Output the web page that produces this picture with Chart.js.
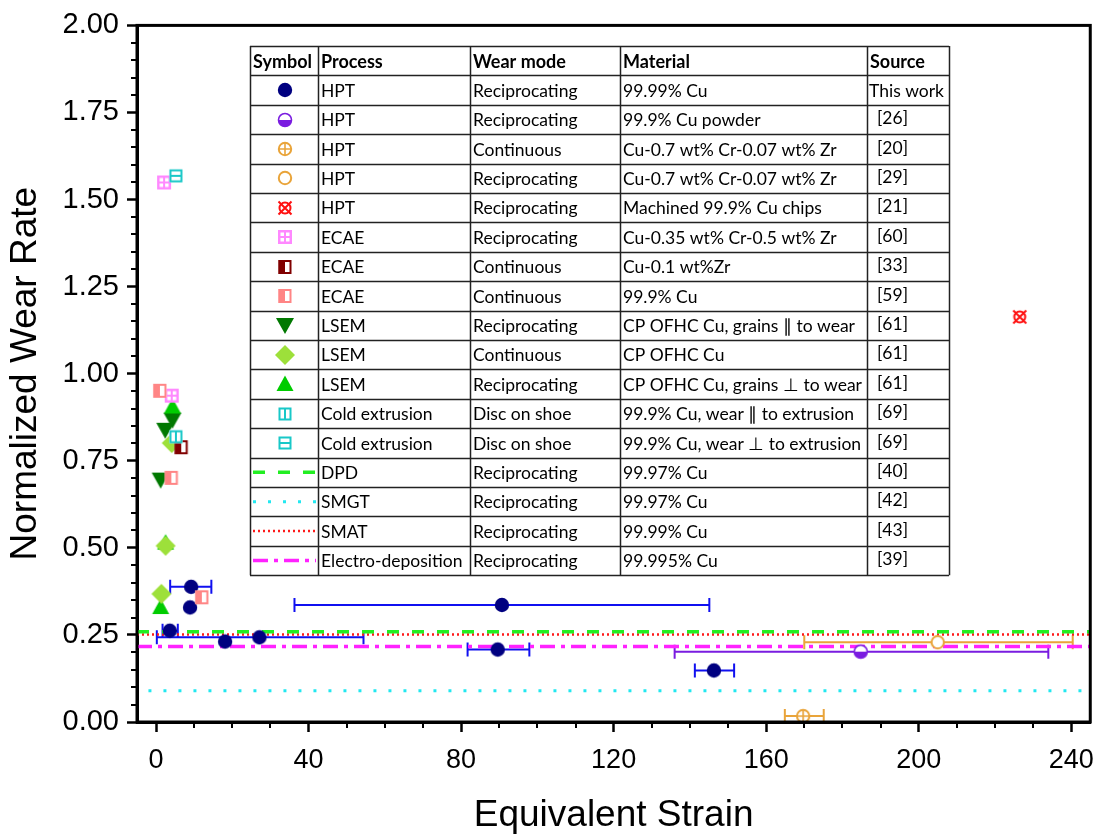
<!DOCTYPE html>
<html>
<head>
<meta charset="utf-8">
<script src="https://cdn.jsdelivr.net/npm/chart.js@4.4.1/dist/chart.umd.min.js"></script>
<style>
  html, body { margin: 0; padding: 0; background: #fff; }
</style>
</head>
<body>
<canvas id="wearChart" width="1106" height="838"></canvas>
<script>
// axis ticks
var xTicks = [0, 40, 80, 120, 160, 200, 240];
var yTicks = [0, 0.25, 0.5, 0.75, 1.0, 1.25, 1.5, 1.75, 2.0];

// HPT, this work (with strain ranges)
var hptX     = [9.2, 8.9, 3.6, 18.1, 27.1, 90.7, 89.6, 146.3];
var hptY     = [0.388, 0.329, 0.262, 0.231, 0.243, 0.336, 0.208, 0.148];
var hptXLow  = [3.7, null, 1.7, null, 0.2, 36.3, 81.7, 141.3];
var hptXHigh = [14.5, null, 5.7, null, 54.4, 145.1, 97.9, 151.6];

// HPT literature
var hpt26X = [184.8], hpt26Y = [0.202], hpt26Low = [136], hpt26High = [234];
var hpt20X = [169.7], hpt20Y = [0.017], hpt20Low = [164.9], hpt20High = [175.1];
var hpt29X = [205], hpt29Y = [0.229], hpt29Low = [170], hpt29High = [240.4];
var hpt21X = [226.5], hpt21Y = [1.163];

// ECAE
var ecae60X = [2.1, 4.1], ecae60Y = [1.549, 0.937];
var ecae33X = [6.6], ecae33Y = [0.789];
var ecae59X = [1.0, 4.0, 12.0], ecae59Y = [0.951, 0.701, 0.358];

// LSEM
var lsemParX = [4.3, 2.4, 1.2], lsemParY = [0.868, 0.839, 0.696];
var lsemConX = [4.1, 2.5, 1.4], lsemConY = [0.801, 0.506, 0.368];
var lsemPerpX = [4.3, 2.5, 1.2], lsemPerpY = [0.906, 0.515, 0.330];

// Cold extrusion
var coldParX = [5.2], coldParY = [0.819];
var coldPerpX = [5.2], coldPerpY = [1.568];

// reference levels (horizontal lines)
var lineSpan = [-5, 245];
var smgtSpan = [-2, 245];
var dpdLevel = 0.259, smgtLevel = 0.090, smatLevel = 0.251, edLevel = 0.217;

// table
var tableHead  = ['Symbol', 'Process', 'Wear mode', 'Material', 'Source'];
var processes  = ['HPT', 'HPT', 'HPT', 'HPT', 'HPT', 'ECAE', 'ECAE', 'ECAE', 'LSEM', 'LSEM', 'LSEM',
                  'Cold extrusion', 'Cold extrusion', 'DPD', 'SMGT', 'SMAT', 'Electro-deposition'];
var wearModes  = ['Reciprocating', 'Reciprocating', 'Continuous', 'Reciprocating', 'Reciprocating',
                  'Reciprocating', 'Continuous', 'Continuous', 'Reciprocating', 'Continuous', 'Reciprocating',
                  'Disc on shoe', 'Disc on shoe', 'Reciprocating', 'Reciprocating', 'Reciprocating', 'Reciprocating'];
var materials  = ['99.99% Cu', '99.9% Cu powder', 'Cu-0.7 wt% Cr-0.07 wt% Zr', 'Cu-0.7 wt% Cr-0.07 wt% Zr',
                  'Machined 99.9% Cu chips', 'Cu-0.35 wt% Cr-0.5 wt% Zr', 'Cu-0.1 wt%Zr', '99.9% Cu',
                  'CP OFHC Cu, grains \u2225 to wear', 'CP OFHC Cu', 'CP OFHC Cu, grains \u22A5 to wear',
                  '99.9% Cu, wear \u2225 to extrusion', '99.9% Cu, wear \u22A5 to extrusion',
                  '99.97% Cu', '99.97% Cu', '99.99% Cu', '99.995% Cu'];
var sources    = ['This work', '[26]', '[20]', '[29]', '[21]', '[60]', '[33]', '[59]', '[61]', '[61]', '[61]',
                  '[69]', '[69]', '[40]', '[42]', '[43]', '[39]'];

// ---------- marker images ----------
function makeMarker(kind, color) {
  var c = document.createElement('canvas');
  c.width = 24; c.height = 24;
  var g = c.getContext('2d');
  g.translate(12, 12);
  g.fillStyle = color;
  g.strokeStyle = color;
  g.lineWidth = 2;
  if (kind === 'dot') {
    g.beginPath(); g.arc(0, 0, 7.2, 0, 2 * Math.PI); g.fill();
  } else if (kind === 'halfdot') {
    g.beginPath(); g.arc(0, 0, 6.5, 0, 2 * Math.PI); g.fillStyle = '#fff'; g.fill();
    g.beginPath(); g.arc(0, 0, 6.5, 0, Math.PI); g.closePath(); g.fillStyle = color; g.fill();
    g.lineWidth = 1.6; g.beginPath(); g.arc(0, 0, 6.5, 0, 2 * Math.PI); g.stroke();
  } else if (kind === 'ring' || kind === 'ringplus') {
    g.beginPath(); g.arc(0, 0, 6.2, 0, 2 * Math.PI); g.fillStyle = '#fff'; g.fill(); g.stroke();
    if (kind === 'ringplus') {
      g.lineWidth = 1.6;
      g.beginPath(); g.moveTo(-6.2, 0); g.lineTo(6.2, 0); g.moveTo(0, -6.2); g.lineTo(0, 6.2); g.stroke();
    }
  } else if (kind === 'ringx') {
    g.fillStyle = '#fff'; g.fillRect(-6.5, -6.5, 13, 13);
    g.beginPath(); g.arc(0, 0, 5.5, 0, 2 * Math.PI); g.stroke();
    g.beginPath(); g.moveTo(-6.5, -6.5); g.lineTo(6.5, 6.5); g.moveTo(6.5, -6.5); g.lineTo(-6.5, 6.5); g.stroke();
  } else if (kind === 'grid') {
    g.fillRect(-7, -7, 14, 14);
    g.fillStyle = '#fff';
    g.fillRect(-4.5, -4.5, 3.5, 3.5); g.fillRect(1, -4.5, 3.5, 3.5);
    g.fillRect(-4.5, 1, 3.5, 3.5); g.fillRect(1, 1, 3.5, 3.5);
  } else if (kind === 'halfsq') {
    g.fillStyle = '#fff'; g.fillRect(-6.5, -7, 13, 14);
    g.fillStyle = color; g.fillRect(-6.5, -7, 6.5, 14);
    g.lineWidth = 2; g.strokeRect(-5.5, -6, 11, 12);
  } else if (kind === 'down') {
    g.beginPath(); g.moveTo(-9, -7); g.lineTo(9, -7); g.lineTo(0, 9); g.closePath(); g.fill();
  } else if (kind === 'up') {
    g.beginPath(); g.moveTo(-8.5, 7); g.lineTo(8.5, 7); g.lineTo(0, -8.5); g.closePath(); g.fill();
  } else if (kind === 'diamond') {
    g.beginPath(); g.moveTo(0, -10); g.lineTo(10, 0); g.lineTo(0, 10); g.lineTo(-10, 0); g.closePath(); g.fill();
  } else if (kind === 'sqv' || kind === 'sqh') {
    g.fillStyle = '#fff'; g.fillRect(-6.5, -6.5, 13, 13);
    g.strokeRect(-5.5, -5.5, 11, 11);
    g.beginPath();
    if (kind === 'sqv') { g.moveTo(0, -5.5); g.lineTo(0, 5.5); } else { g.moveTo(-5.5, 0); g.lineTo(5.5, 0); }
    g.stroke();
  }
  return c;
}

function pts(xs, ys) {
  return xs.map(function (x, i) { return { x: x, y: ys[i] }; });
}

// series in table order; z = draw order (lower is on top)
var series = [
  { x: hptX, y: hptY, lo: hptXLow, hi: hptXHigh, marker: makeMarker('dot', '#000080'), bar: '#1010f0', z: 8 },
  { x: hpt26X, y: hpt26Y, lo: hpt26Low, hi: hpt26High, marker: makeMarker('halfdot', '#7a1ce0'), bar: '#7a1ce0', z: 9 },
  { x: hpt20X, y: hpt20Y, lo: hpt20Low, hi: hpt20High, marker: makeMarker('ringplus', '#e9a43a'), bar: '#e9a43a', z: 10 },
  { x: hpt29X, y: hpt29Y, lo: hpt29Low, hi: hpt29High, marker: makeMarker('ring', '#e9a43a'), bar: '#e9a43a', z: 11 },
  { x: hpt21X, y: hpt21Y, marker: makeMarker('ringx', '#ff1010'), z: 12 },
  { x: ecae60X, y: ecae60Y, marker: makeMarker('grid', '#ff88ff'), z: 4 },
  { x: ecae33X, y: ecae33Y, marker: makeMarker('halfsq', '#800000'), z: 2 },
  { x: ecae59X, y: ecae59Y, marker: makeMarker('halfsq', '#ff8585'), z: 3 },
  { x: lsemParX, y: lsemParY, marker: makeMarker('down', '#007800'), z: 7 },
  { x: lsemConX, y: lsemConY, marker: makeMarker('diamond', '#9de03a'), z: 5 },
  { x: lsemPerpX, y: lsemPerpY, marker: makeMarker('up', '#00cc00'), z: 6 },
  { x: coldParX, y: coldParY, marker: makeMarker('sqv', '#18c8c8'), z: 1 },
  { x: coldPerpX, y: coldPerpY, marker: makeMarker('sqh', '#18c8c8'), z: 0 }
];

var levels = [
  { y: dpdLevel, span: lineSpan, color: '#22ee22', width: 3.5, dash: [12, 13] },
  { y: smgtLevel, span: smgtSpan, color: '#22e8f0', width: 3, dash: [3, 12] },
  { y: smatLevel, span: lineSpan, color: '#ff1a1a', width: 2.5, dash: [2, 3] },
  { y: edLevel, span: lineSpan, color: '#ff22ff', width: 3.5, dash: [15, 6, 4, 6] }
];

var datasets = series.map(function (s) {
  return {
    data: pts(s.x, s.y),
    pointStyle: s.marker,
    pointRadius: 6,
    order: s.z
  };
});
levels.forEach(function (l, i) {
  datasets.push({
    data: pts(l.span, [l.y, l.y]),
    showLine: true,
    borderColor: l.color,
    borderWidth: l.width,
    borderDash: l.dash,
    pointRadius: 0,
    order: 20 + i
  });
});

// ---------- plugins ----------
var errorBars = {
  id: 'errorBars',
  beforeDatasetsDraw: function (chart) {
    var ctx = chart.ctx, xs = chart.scales.x, ys = chart.scales.y;
    ctx.save();
    ctx.lineWidth = 2;
    series.forEach(function (s) {
      if (!s.lo) return;
      ctx.strokeStyle = s.bar;
      s.x.forEach(function (v, i) {
        if (s.lo[i] == null) return;
        var py = ys.getPixelForValue(s.y[i]);
        var x0 = xs.getPixelForValue(s.lo[i]), x1 = xs.getPixelForValue(s.hi[i]);
        ctx.beginPath();
        ctx.moveTo(x0, py); ctx.lineTo(x1, py);
        ctx.moveTo(x0, py - 7); ctx.lineTo(x0, py + 7);
        ctx.moveTo(x1, py - 7); ctx.lineTo(x1, py + 7);
        ctx.stroke();
      });
    });
    ctx.restore();
  }
};

var decor = {
  id: 'decor',
  afterDraw: function (chart) {
    var ctx = chart.ctx, a = chart.chartArea, xs = chart.scales.x, ys = chart.scales.y;
    ctx.save();
    // minor ticks
    ctx.strokeStyle = '#000';
    ctx.lineWidth = 2;
    ctx.beginPath();
    for (var v = 0; v <= 2.0001; v += 0.05) {
      if (Math.abs(v / 0.25 - Math.round(v / 0.25)) < 1e-6) continue;
      var py = Math.round(ys.getPixelForValue(v));
      ctx.moveTo(a.left - 6, py); ctx.lineTo(a.left, py);
    }
    for (var u = 0; u <= 240; u += 10) {
      if (u % 40 === 0) continue;
      var px = Math.round(xs.getPixelForValue(u));
      ctx.moveTo(px, a.bottom); ctx.lineTo(px, a.bottom + 6);
    }
    ctx.stroke();
    // frame
    ctx.lineWidth = 3;
    ctx.strokeRect(a.left, a.top, a.right - a.left, a.bottom - a.top);

    // table
    var colX = [250, 318, 470, 620, 867, 949];
    var top = 46, rowH = 29.4, nRows = processes.length + 1;
    var bottom = top + rowH * nRows;
    ctx.fillStyle = '#fff';
    ctx.fillRect(colX[0], top, colX[5] - colX[0], bottom - top);
    ctx.strokeStyle = '#222';
    ctx.lineWidth = 1.5;
    ctx.beginPath();
    for (var r = 0; r <= nRows; r++) {
      var ly = Math.round(top + r * rowH) + 0.5;
      ctx.moveTo(colX[0], ly); ctx.lineTo(colX[5], ly);
    }
    colX.forEach(function (cx) { ctx.moveTo(cx + 0.5, top); ctx.lineTo(cx + 0.5, bottom); });
    ctx.stroke();

    ctx.fillStyle = '#000';
    ctx.textBaseline = 'middle';
    ctx.textAlign = 'left';
    ctx.font = 'bold 18px Lato, "Open Sans", sans-serif';
    tableHead.forEach(function (h, i) { ctx.fillText(h, colX[i] + 3, top + rowH / 2 + 1, colX[i + 1] - colX[i] - 4); });
    ctx.font = '17.5px Lato, "Open Sans", sans-serif';
    for (var k = 0; k < processes.length; k++) {
      var cy = top + rowH * (k + 1.5) + 1;
      ctx.fillText(processes[k], colX[1] + 3, cy, colX[2] - colX[1] - 4);
      ctx.fillText(wearModes[k], colX[2] + 3, cy, colX[3] - colX[2] - 4);
      ctx.fillText(materials[k], colX[3] + 3, cy, colX[4] - colX[3] - 5);
      var isRef = sources[k].charAt(0) === '[';
      ctx.fillText(sources[k], isRef ? colX[4] + 10 : colX[4] + 2, cy - (isRef ? 2 : 0), colX[5] - colX[4] - 3);
      var mx = (colX[0] + colX[1]) / 2 + 1;
      if (k < series.length) {
        var m = series[k].marker;
        ctx.drawImage(m, Math.round(mx - m.width / 2), Math.round(cy - 1 - m.height / 2));
      } else {
        var l = levels[k - series.length];
        ctx.save();
        ctx.strokeStyle = l.color;
        ctx.lineWidth = l.width;
        ctx.setLineDash(l.dash);
        ctx.beginPath();
        ctx.moveTo(colX[0] + 3, cy - 1); ctx.lineTo(colX[1] - 2, cy - 1);
        ctx.stroke();
        ctx.restore();
      }
    }
    ctx.restore();
  }
};

var sans = '"Liberation Sans", Arial, sans-serif';

new Chart(document.getElementById('wearChart'), {
  type: 'scatter',
  data: { datasets: datasets },
  options: {
    responsive: false,
    animation: false,
    events: [],
    layout: { padding: { top: 22, right: 14, left: 0, bottom: 0 } },
    plugins: { legend: { display: false }, tooltip: { enabled: false } },
    scales: {
      x: {
        type: 'linear',
        min: -5,
        max: 245,
        afterBuildTicks: function (scale) { scale.ticks = xTicks.map(function (v) { return { value: v }; }); },
        afterFit: function (scale) { scale.height = 116; },
        grid: { drawOnChartArea: false, tickLength: 10, tickWidth: 2.5, tickColor: '#000' },
        border: { color: '#000', width: 3 },
        ticks: { color: '#000', font: { family: sans, size: 27 }, padding: 12, maxRotation: 0 },
        title: { display: true, text: 'Equivalent Strain', color: '#000', font: { family: sans, size: 37 }, padding: { top: 0, bottom: 0 } }
      },
      y: {
        type: 'linear',
        min: 0,
        max: 2,
        afterBuildTicks: function (scale) { scale.ticks = yTicks.map(function (v) { return { value: v }; }); },
        afterFit: function (scale) { scale.width = 137; },
        grid: { drawOnChartArea: false, tickLength: 10, tickWidth: 2.5, tickColor: '#000' },
        border: { color: '#000', width: 3 },
        ticks: { color: '#000', font: { family: sans, size: 29 }, padding: 8,
                 callback: function (v) { return Number(v).toFixed(2); } },
        title: { display: true, text: 'Normalized Wear Rate', color: '#000', font: { family: sans, size: 37 }, padding: { top: 4, bottom: 0 } }
      }
    }
  },
  plugins: [errorBars, decor]
});
</script>
</body>
</html>
